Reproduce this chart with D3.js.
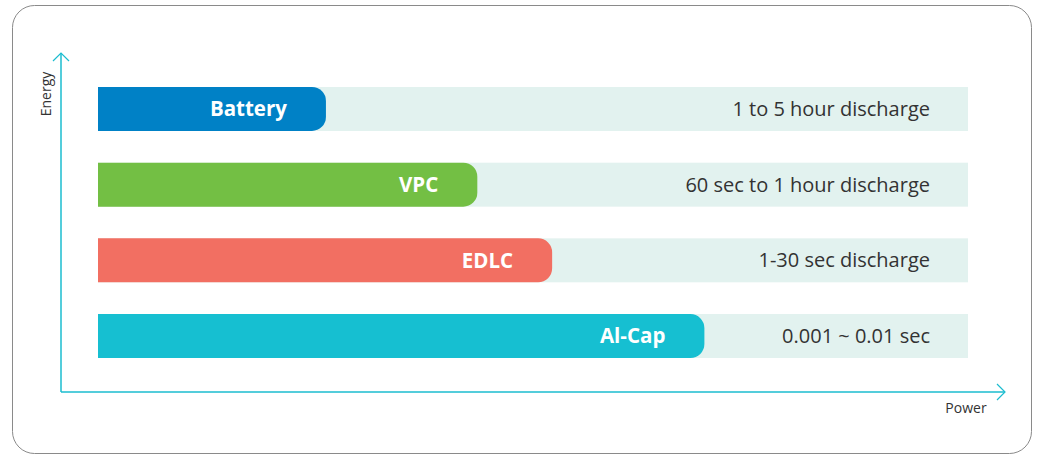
<!DOCTYPE html>
<html>
<head lang="en">
    <meta charset="UTF-8">
    <title></title>
    <script src="https://cdn.jsdelivr.net/npm/d3@7"></script>
    <style>
        body{margin:0;background:#fff;}
        text{font-family:"Open Sans",sans-serif;}
    </style>
</head>
<body>
</body>
</html>
<script>
    var names=["Battery","VPC","EDLC","Al-Cap"];
    var values=[26.2,43.6,52.2,69.7];   // % of full track length
    var notes=["1 to 5 hour discharge","60 sec to 1 hour discharge","1-30 sec discharge","0.001 ~ 0.01 sec"];
    var colors=["#0081c6","#73bf44","#f26f62","#16bfd1"];

    var W=1038,H=457;
    var _svg=d3.select('body').append('svg')
            .attr('width',W).attr('height',H);

    // frame
    _svg.append('rect')
            .attr('x',12.5).attr('y',5.5)
            .attr('width',1019).attr('height',448)
            .attr('rx',22).attr('ry',22)
            .attr('fill','none').attr('stroke','#8a8a8a').attr('stroke-width',1);

    var _x=d3.scaleLinear().domain([0,100]).range([98,968]);
    var _y=d3.scaleBand().domain(names).range([87,358]).paddingInner(0.419).paddingOuter(0);

    // axes
    var axc='#1bbccf';
    _svg.append('path').attr('d','M61,392V53').attr('stroke',axc).attr('stroke-width',1.5).attr('fill','none');
    _svg.append('path').attr('d','M61,392H1005').attr('stroke',axc).attr('stroke-width',1.5).attr('fill','none');
    _svg.append('path').attr('d','M53,61L61,53L69,61').attr('stroke',axc).attr('stroke-width',1.2).attr('fill','none');
    _svg.append('path').attr('d','M997,384L1005,392L997,400').attr('stroke',axc).attr('stroke-width',1.2).attr('fill','none');
    _svg.append('text').text('Energy')
            .attr('transform','translate(51,94) rotate(-90)')
            .attr('text-anchor','middle').attr('font-size',14).attr('fill','#333');
    _svg.append('text').text('Power')
            .attr('x',966).attr('y',413)
            .attr('text-anchor','middle').attr('font-size',14).attr('fill','#333');

    var _g=_svg.selectAll('.row').data(names).enter().append('g').attr('class','row');
    _g.append('rect')
            .attr('x',_x(0)).attr('y',function(d){return _y(d);})
            .attr('width',_x(100)-_x(0)).attr('height',_y.bandwidth())
            .attr('fill','#e2f2ef');
    _g.append('path')
            .attr('d',function(d,i){
                var x0=_x(0),x1=_x(values[i]),y0=_y(d),h=_y.bandwidth(),r=14;
                return 'M'+x0+','+y0+'H'+(x1-r)+'A'+r+','+r+' 0 0 1 '+x1+','+(y0+r)
                    +'V'+(y0+h-r)+'A'+r+','+r+' 0 0 1 '+(x1-r)+','+(y0+h)+'H'+x0+'Z';
            })
            .attr('fill',function(d,i){return colors[i];});
    _g.append('text')
            .attr('x',function(d,i){return _x(values[i])-39;})
            .attr('y',function(d){return _y(d)+_y.bandwidth()/2;})
            .attr('dy','0.35em').attr('text-anchor','end')
            .attr('font-size',20.5).attr('font-weight','bold').attr('fill','#fff')
            .text(function(d){return d;});
    _g.append('text')
            .attr('x',930)
            .attr('y',function(d){return _y(d)+_y.bandwidth()/2;})
            .attr('dy','0.35em').attr('text-anchor','end')
            .attr('font-size',20).attr('fill','#333')
            .text(function(d,i){return notes[i];});
</script>
